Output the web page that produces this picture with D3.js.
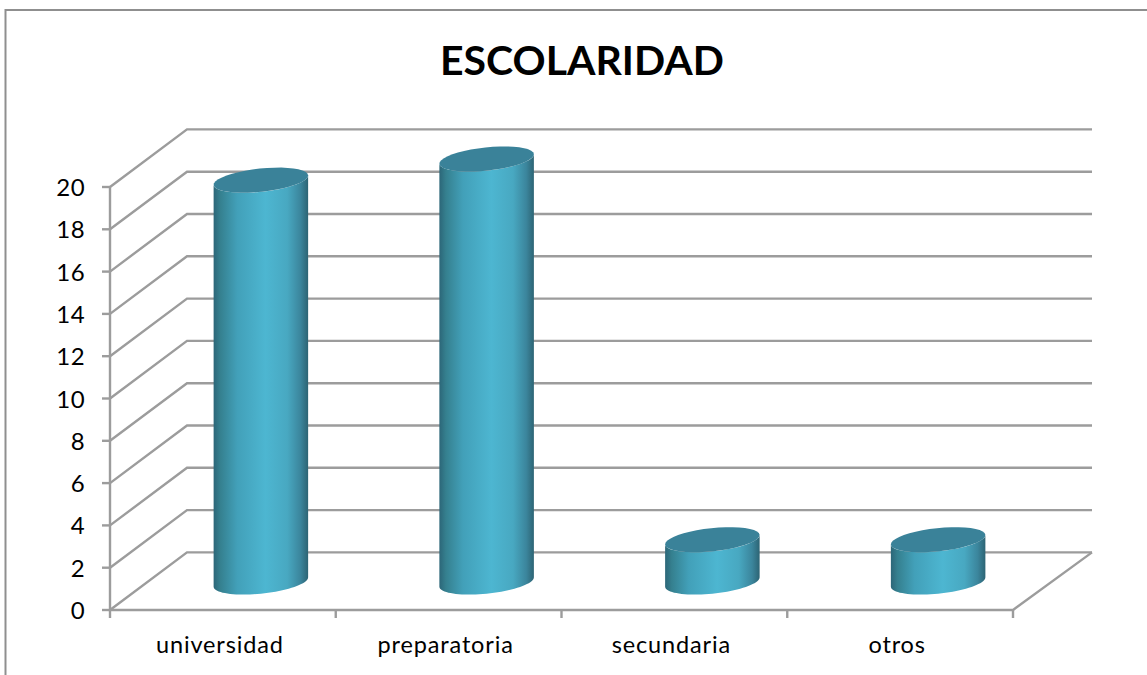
<!DOCTYPE html>
<html><head><meta charset="utf-8">
<script src="https://cdn.jsdelivr.net/npm/d3@7"></script>
<style>html,body{margin:0;padding:0;background:#fff;overflow:hidden}svg{display:block}text{font-family:Lato,"Open Sans",sans-serif;fill:#000}</style>
</head><body>
<script>
const categories = ["universidad","preparatoria","secundaria","otros"];
const values = [19,20,2,2];
const yTicks = [0,2,4,6,8,10,12,14,16,18,20];
const titleText = "ESCOLARIDAD";

const W=1147,H=675;
const svg=d3.select("body").append("svg").attr("width",W).attr("height",H);
const x=d3.scaleBand().domain(categories).range([110,1013]);
const y=d3.scaleLinear().domain([0,20]).range([610,187]);
const depthX=d3.scaleLinear().domain([0,1]).range([0,77]);
const depthY=d3.scaleLinear().domain([0,1]).range([0,-57.6]);
const backRight=1092;
const gridColor="#9c9c9c";

// frame
svg.append("path").attr("d",`M5.5,${H}V10H${W}`).attr("fill","none").attr("stroke","#8f8f8f").attr("stroke-width",2);

svg.append("text").attr("x",582).attr("y",75).attr("text-anchor","middle")
  .attr("font-size",41).attr("font-weight",700).text(titleText);

// gridlines
const grid=svg.append("g").attr("fill","none").attr("stroke",gridColor).attr("stroke-width",2.4);
yTicks.forEach(t=>{
  const x0=x.range()[0],y0=y(t);
  const bx=x0+depthX(1),by=y0+depthY(1);
  grid.append("path").attr("d",`M${x0},${y0}L${bx},${by}H${backRight}`);
  grid.append("path").attr("d",`M${x0-8},${y0}H${x0}`);
  svg.append("text").attr("x",x0-25).attr("y",y0+9).attr("text-anchor","end").attr("font-size",24).attr("letter-spacing",0.4).text(t);
});
grid.append("path").attr("d",`M${x.range()[0]},${y(20)}V${y(0)}H${x.range()[1]}L${backRight},${y(0)+depthY(1)}`);
const tickPos=categories.map(c=>x(c)).concat(x.range()[1]);
tickPos.forEach(p=>grid.append("path").attr("d",`M${p},${y(0)}v8`));
categories.forEach(c=>{
  svg.append("text").attr("x",x(c)+x.bandwidth()/2-3).attr("y",653).attr("text-anchor","middle")
    .attr("font-size",23.5).attr("letter-spacing",0.85).text(c);
});

// cylinders
const defs=svg.append("defs");
const g=defs.append("linearGradient").attr("id","cyl").attr("x1",0).attr("x2",1).attr("y1",0).attr("y2",0);
[[0,"#2c6678"],[0.07,"#35808f"],[0.25,"#42a0b9"],[0.55,"#4db6d1"],[0.78,"#48a8c1"],[0.92,"#3b859c"],[1,"#2d6474"]]
  .forEach(([o,c])=>g.append("stop").attr("offset",o).attr("stop-color",c));

const rx=47.5,ry=11.6,phi=-6*Math.PI/180;
function pt(cx,cy,t){
  const a=rx*Math.cos(t),b=ry*Math.sin(t);
  return [cx+a*Math.cos(phi)-b*Math.sin(phi),cy+a*Math.sin(phi)+b*Math.cos(phi)];
}
const tMax=Math.atan2(-ry*Math.sin(phi),rx*Math.cos(phi)); // right extreme
const line=d3.line();
const arc=(cx,cy,a,b)=>d3.range(0,41).map(i=>pt(cx,cy,a+(b-a)*i/40));
categories.forEach((c,i)=>{
  const cx=x(c)+x.bandwidth()/2+depthX(0.5)-0.5;
  const by=y(0)+depthY(0.5)+0.8;
  const ty=y(values[i])+depthY(0.5)+0.8;
  const lower=arc(cx,by,tMax,tMax+Math.PI);       // right extreme → bottom → left extreme
  const upper=arc(cx,ty,tMax+Math.PI,tMax);       // left extreme → ... → right extreme
  svg.append("path").attr("d",line(lower.concat(upper))+"Z").attr("fill","url(#cyl)");
  svg.append("path").attr("d",line(arc(cx,ty,0,2*Math.PI))+"Z").attr("fill","#3a8299");
});
</script>
</body></html>
